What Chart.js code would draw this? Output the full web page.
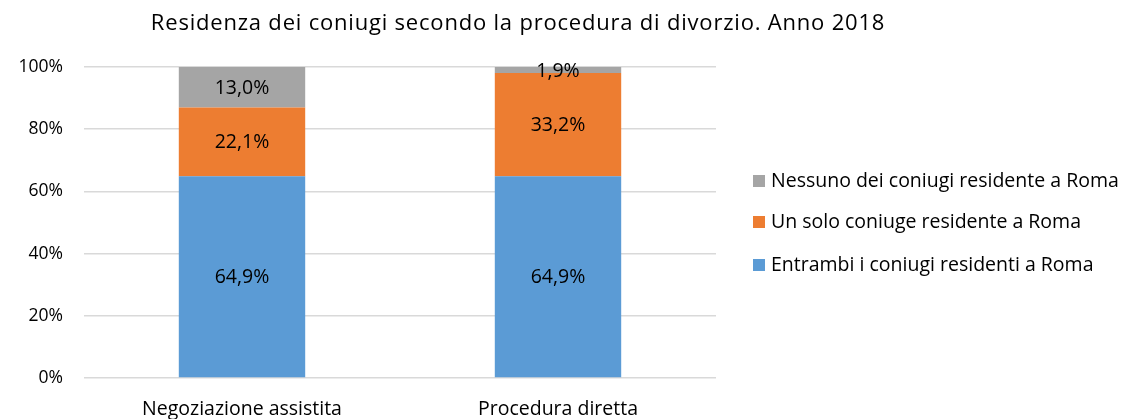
<!DOCTYPE html>
<html>
<head>
<meta charset="utf-8">
<script src="https://cdn.jsdelivr.net/npm/chart.js@4/dist/chart.umd.min.js"></script>
<style>
  body { margin: 0; background: #fff; }
  #wrap { width: 1124px; height: 419px; }
</style>
</head>
<body>
<div id="wrap"><canvas id="chart" width="1124" height="419"></canvas></div>
<script>
var chartTitle = 'Residenza dei coniugi secondo la procedura di divorzio. Anno 2018';
var categories = ['Negoziazione assistita', 'Procedura diretta'];
var seriesNames = ['Entrambi i coniugi residenti a Roma', 'Un solo coniuge residente a Roma', 'Nessuno dei coniugi residente a Roma'];
var entrambi = [64.9, 64.9];
var unSolo = [22.1, 33.2];
var nessuno = [13.0, 1.9];
var seriesColors = ['#5B9BD5', '#ED7D31', '#A5A5A5'];

var FONT = '"Open Sans", "Noto Sans", sans-serif';

var fmt = function (v) {
    return v.toFixed(1).replace('.', ',') + '%';
};

// labels in the middle of each segment
var barLabels = {
    id: 'barLabels',
    afterDatasetsDraw: function (chart) {
        var ctx = chart.ctx;
        ctx.save();
        ctx.font = '19.5px ' + FONT;
        ctx.fillStyle = '#000';
        ctx.textAlign = 'center';
        ctx.textBaseline = 'middle';
        chart.data.datasets.forEach(function (ds, i) {
            chart.getDatasetMeta(i).data.forEach(function (bar, j) {
                var mid = (bar.y + bar.base) / 2;
                ctx.fillText(fmt(ds.data[j]), bar.x, mid + 1);
            });
        });
        ctx.restore();
    }
};

// title and legend on the right, Excel style
var decorations = {
    id: 'decorations',
    afterDraw: function (chart) {
        var ctx = chart.ctx;
        ctx.save();
        ctx.fillStyle = '#000';
        ctx.textBaseline = 'middle';
        ctx.font = '22px ' + FONT;
        ctx.letterSpacing = '0.8px';
        ctx.textAlign = 'center';
        ctx.fillText(chartTitle, 518, 24);
        ctx.letterSpacing = '0px';

        ctx.font = '19.5px ' + FONT;
        ctx.textAlign = 'left';
        var rows = [181, 222, 265];
        for (var k = 0; k < 3; k++) {
            var s = 2 - k;
            ctx.fillStyle = seriesColors[s];
            ctx.fillRect(753, rows[k] - 6, 12, 12);
            ctx.fillStyle = '#000';
            ctx.fillText(seriesNames[s], 771, rows[k]);
        }
        ctx.restore();
    }
};

new Chart(document.getElementById('chart'), {
    type: 'bar',
    data: {
        labels: categories,
        datasets: [
            { label: seriesNames[0], data: entrambi, backgroundColor: seriesColors[0] },
            { label: seriesNames[1], data: unSolo, backgroundColor: seriesColors[1] },
            { label: seriesNames[2], data: nessuno, backgroundColor: seriesColors[2] }
        ]
    },
    options: {
        responsive: false,
        animation: false,
        layout: { padding: { top: 67, right: 408, left: 0, bottom: 0 } },
        datasets: { bar: { categoryPercentage: 1, barPercentage: 0.4 } },
        plugins: {
            legend: { display: false },
            title: { display: false },
            tooltip: { enabled: false }
        },
        scales: {
            x: {
                stacked: true,
                afterFit: function (scale) { scale.height = 41; },
                grid: { display: false, drawTicks: false },
                border: { display: false },
                ticks: { color: '#000', font: { family: FONT, size: 19.5 }, padding: 20 }
            },
            y: {
                stacked: true,
                min: 0,
                max: 100,
                afterFit: function (scale) { scale.width = 84; },
                grid: { color: '#D9D9D9', lineWidth: 1.5, drawTicks: false },
                border: { display: false },
                ticks: {
                    stepSize: 20,
                    padding: 21,
                    color: '#000',
                    font: { family: FONT, size: 17.5 },
                    callback: function (v) { return v + '%'; }
                }
            }
        }
    },
    plugins: [barLabels, decorations]
});
</script>
</body>
</html>
